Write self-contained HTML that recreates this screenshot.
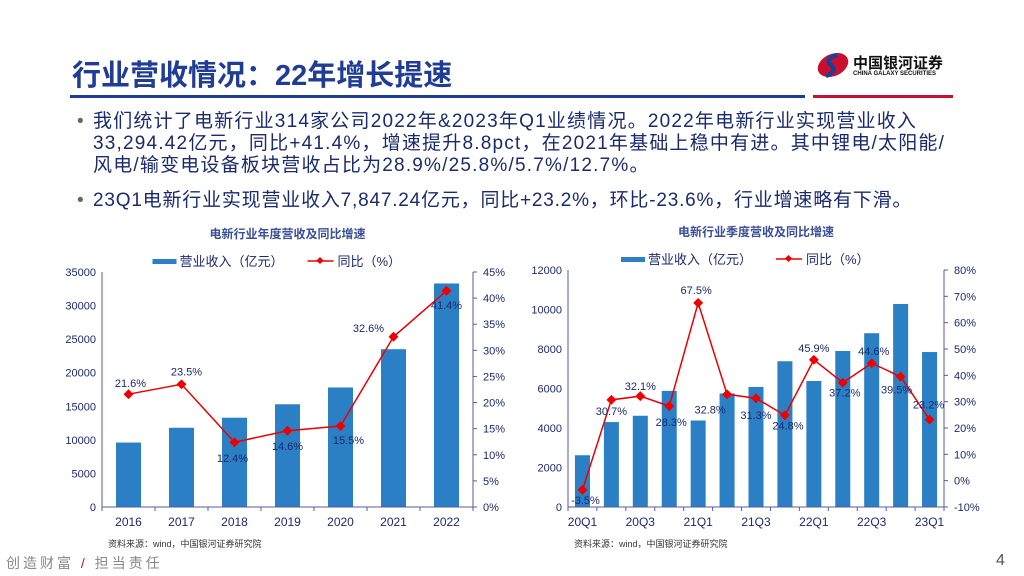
<!DOCTYPE html>
<html><head><meta charset="utf-8"><style>
body{margin:0;width:1024px;height:576px;background:#fff;position:relative;overflow:hidden;font-family:"Liberation Sans","Noto Sans CJK SC",sans-serif}
.abs{position:absolute}
.title{left:72px;top:52px;font-size:29px;font-weight:bold;color:#1f3c96}
.bul{left:93px;font-size:19px;color:#1a2a6e;line-height:22px;width:900px;white-space:nowrap;letter-spacing:1.2px}
.bul span.d{position:absolute;left:-16px;color:#666}
svg text{font-family:"Liberation Sans","Noto Sans CJK SC",sans-serif}
</style></head><body>
<div class="abs title">行业营收情况：22年增长提速</div>
<div class="abs" style="left:70px;top:95px;width:735px;height:3px;background:#1f3c96"></div>
<div class="abs" style="left:813px;top:95px;width:140px;height:3px;background:#c8102e"></div>
<div class="abs" style="left:815px;top:50px;width:140px;height:32px">
<svg width="36" height="30" style="position:absolute;left:0;top:0"><ellipse cx="18" cy="15" rx="16" ry="11" fill="#c8102e" transform="rotate(-25 18 15)"/><path d="M22 5 Q9 9 16 15 Q23 21 11 26" stroke="#1f3c96" stroke-width="4.5" fill="none"/></svg>
<div style="position:absolute;left:38px;top:2px;font-size:15px;font-weight:bold;color:#111">中国银河证券</div>
<div style="position:absolute;left:38px;top:21px;font-size:6px;font-weight:bold;color:#111">CHINA GALAXY SECURITIES</div>
</div>
<div class="abs bul" style="top:111px"><span class="d">•</span>我们统计了电新行业314家公司2022年&amp;2023年Q1业绩情况。2022年电新行业实现营业收入<br>33,294.42亿元，同比+41.4%，增速提升8.8pct，在2021年基础上稳中有进。其中锂电/太阳能/<br>风电/输变电设备板块营收占比为28.9%/25.8%/5.7%/12.7%。</div>
<div class="abs bul" style="top:190px;letter-spacing:0.8px"><span class="d">•</span>23Q1电新行业实现营业收入7,847.24亿元，同比+23.2%，环比-23.6%，行业增速略有下滑。</div>
<svg class="abs" style="left:0;top:0" width="1024" height="576" id="cv"></svg>
<div class="abs" style="left:6px;top:553px;font-size:14px;color:#888;letter-spacing:3px">创造财富 <span style="color:#c8102e">/</span> 担当责任</div>
<div class="abs" style="left:996px;top:552px;font-size:16px;color:#555">4</div>
<script>
const annCats=["2016","2017","2018","2019","2020","2021","2022"];
const annRev=[9600,11800,13300,15300,17800,23500,33294];
const annYoy=[21.6,23.5,12.4,14.6,15.5,32.6,41.4];
const annLeftTicks=[0,5000,10000,15000,20000,25000,30000,35000];
const annRightTicks=[0,5,10,15,20,25,30,35,40,45];
const qCats=["20Q1","20Q2","20Q3","20Q4","21Q1","21Q2","21Q3","21Q4","22Q1","22Q2","22Q3","22Q4","23Q1"];
const qRev=[2620,4300,4620,5880,4380,5750,6080,7380,6380,7900,8800,10280,7847];
const qYoy=[-3.5,30.7,32.1,28.3,67.5,32.8,31.3,24.8,45.9,37.2,44.6,39.5,23.2];
const qLeftTicks=[0,2000,4000,6000,8000,10000,12000];
const qRightTicks=[-10,0,10,20,30,40,50,60,70,80];
const NS="http://www.w3.org/2000/svg";
const svg=document.getElementById('cv');
function mk(t,a,txt){const e=document.createElementNS(NS,t);for(const k in a)e.setAttribute(k,a[k]);if(txt!=null)e.textContent=txt;svg.appendChild(e);return e;}
function chart(o){
 const {x0,x1,y0,y1,cats,rev,yoy,lt,rt,lmax,rmin,rmax,labEvery,labOff,prefix}=o;
 const n=cats.length,bw=(x1-x0)/n;
 const yl=v=>y1-(v/lmax)*(y1-y0);
 const yr=v=>y1-(v-rmin)/(rmax-rmin)*(y1-y0);
 const xc=i=>x0+bw*(i+0.5);
 let t=mk('text',{x:(x0+x1)/2,y:y0-34,'text-anchor':'middle','font-size':12,'font-weight':'bold',fill:'#3a4f9a'},o.title);
 
 let lg=mk('rect',{x:(x0+x1)/2-135+o.lgx,y:y0-13,width:24,height:5,fill:'#2b7fc4'});
 
 mk('text',{x:(x0+x1)/2-108+o.lgx,y:y0-6,'font-size':13,fill:'#1a2a6e'},'营业收入（亿元）');
 let ll=mk('line',{x1:(x0+x1)/2+20+o.lgx,x2:(x0+x1)/2+46+o.lgx,y1:y0-11,y2:y0-11,stroke:'#e00',"stroke-width":1.5});
 
 mk('rect',{x:(x0+x1)/2+30+o.lgx,y:y0-14,width:5,height:5,fill:'#e00',transform:`rotate(45 ${(x0+x1)/2+32.5+o.lgx} ${y0-11.5})`});
 mk('text',{x:(x0+x1)/2+50+o.lgx,y:y0-6,'font-size':13,fill:'#1a2a6e'},'同比（%）');
 rev.forEach((v,i)=>{const r=mk('rect',{x:xc(i)-o.bwid/2,y:yl(v),width:o.bwid,height:y1-yl(v),fill:'#2b7fc4'});
  });
 mk('line',{x1:x0,x2:x0,y1:y0,y2:y1,stroke:'#5a5aa0'});mk('line',{x1:x1,x2:x1,y1:y0,y2:y1,stroke:'#5a5aa0'});
 mk('line',{x1:x0,x2:x1,y1:y1,y2:y1,stroke:'#5a5aa0'});
 lt.forEach(v=>{mk('text',{x:x0-6,y:yl(v)+4,'text-anchor':'end','font-size':11,fill:'#1a2a6e'},v);});
 rt.forEach(v=>{mk('line',{x1:x1,x2:x1+4,y1:yr(v),y2:yr(v),stroke:'#5a5aa0'});mk('text',{x:x1+10,y:yr(v)+4,'font-size':11,fill:'#1a2a6e'},v+'%');});
 for(let i=0;i<=n;i++)mk('line',{x1:x0+bw*i,x2:x0+bw*i,y1:y1,y2:y1+4,stroke:'#5a5aa0'});
 cats.forEach((c,i)=>{if(i%labEvery==0)mk('text',{x:xc(i),y:y1+19,'text-anchor':'middle','font-size':12,fill:'#1a2a6e'},c);});
 const p=mk('polyline',{points:yoy.map((v,i)=>xc(i)+','+yr(v)).join(' '),fill:'none',stroke:'#e00','stroke-width':1.5});
 
 yoy.forEach((v,i)=>{const d=mk('rect',{x:xc(i)-3.5,y:yr(v)-3.5,width:7,height:7,fill:'#e00',transform:`rotate(45 ${xc(i)} ${yr(v)})`});
  
  mk('text',{x:xc(i)+(labOff[i]?labOff[i][0]:0),y:yr(v)+(labOff[i]?labOff[i][1]:-8),'text-anchor':'middle','font-size':11,fill:'#1a2a6e'},v.toFixed(1)+'%');});
 mk('text',{x:x0+6,y:y1+40,'font-size':9,fill:'#333'},'资料来源：wind，中国银河证券研究院');
}
chart({prefix:'annual',title:'电新行业年度营收及同比增速',x0:102,x1:473,y0:272,y1:507,cats:annCats,rev:annRev,yoy:annYoy,lt:annLeftTicks,rt:annRightTicks,lmax:35000,rmin:0,rmax:45,labEvery:1,bwid:25,lgx:0,
 labOff:[[2,-7],[5,-9],[-2,20],[0,19],[8,18],[-25,-5],[0,18]]});
chart({prefix:'quarterly',title:'电新行业季度营收及同比增速',x0:568,x1:944,y0:270,y1:507,cats:qCats,rev:qRev,yoy:qYoy,lt:qLeftTicks,rt:qRightTicks,lmax:12000,rmin:-10,rmax:80,labEvery:2,bwid:15,lgx:0,
 labOff:[[3,14],[0,15],[0,-6],[2,20],[-2,-9],[-17,19],[0,21],[3,14],[0,-8],[2,14],[2,-8],[-4,17],[-1,-11]]});
</script>
</body></html>
